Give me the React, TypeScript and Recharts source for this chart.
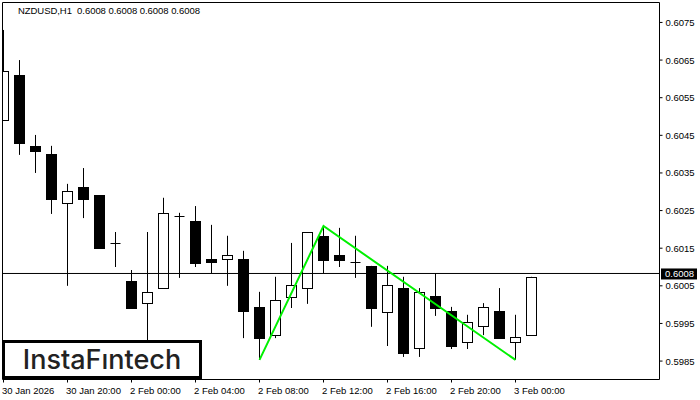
import React from "react";
import {
  ComposedChart,
  Bar,
  Line,
  XAxis,
  YAxis,
  ReferenceLine,
} from "recharts";

const opens = [
  0.60491, 0.6061, 0.60422, 0.604, 0.6027, 0.60313, 0.60291, 0.60164, 0.60063, 0.60004, 0.60044,
  0.60236, 0.60222, 0.60121, 0.60121, 0.60121, 0.59994, 0.59919, 0.6002, 0.60044, 0.60183, 0.60132,
  0.60113, 0.60103, 0.59981, 0.60044, 0.59885, 0.60023, 0.59983, 0.59901, 0.59943, 0.59983, 0.59901,
  0.59919,
];
const highs = [
  0.6073, 0.6065, 0.60451, 0.60422, 0.60321, 0.60363, 0.60291, 0.60193, 0.60092, 0.60193, 0.60284,
  0.60244, 0.60262, 0.60212, 0.60183, 0.60143, 0.60034, 0.60074, 0.60164, 0.60193, 0.60209, 0.60204,
  0.60183, 0.60103, 0.60103, 0.60074, 0.60044, 0.60084, 0.59994, 0.59973, 0.60004, 0.60044, 0.59973,
  0.60074,
];
const lows = [
  0.60491, 0.60398, 0.6035, 0.60241, 0.6005, 0.6023, 0.60151, 0.601, 0.59991, 0.5989, 0.60044,
  0.60071, 0.601, 0.60084, 0.6005, 0.59911, 0.59853, 0.59911, 0.59991, 0.60002, 0.60084, 0.601,
  0.60071, 0.59941, 0.5989, 0.59861, 0.59861, 0.5997, 0.59882, 0.59882, 0.59919, 0.59911, 0.59853,
  0.59919,
];
const closes = [
  0.60621, 0.6043, 0.60408, 0.60281, 0.60302, 0.60281, 0.60151, 0.60164, 0.59991, 0.60034, 0.60244,
  0.60236, 0.60111, 0.60113, 0.60132, 0.59983, 0.59911, 0.60012, 0.60052, 0.60193, 0.60119, 0.60119,
  0.60113, 0.59991, 0.60052, 0.59872, 0.60034, 0.59991, 0.5989, 0.59954, 0.59994, 0.59911, 0.59914,
  0.60074,
];
// double top pattern: bar index -> price
const patternBars = [16, 20, 32];
const patternPrices = [0.59853, 0.60209, 0.59853];

const timeTicks = [0, 4, 8, 12, 16, 20, 24, 28, 32];
const timeLabels = [
  "30 Jan 2026",
  "30 Jan 20:00",
  "2 Feb 00:00",
  "2 Feb 04:00",
  "2 Feb 08:00",
  "2 Feb 12:00",
  "2 Feb 16:00",
  "2 Feb 20:00",
  "3 Feb 00:00",
];
const priceTicks = [0.5985, 0.5995, 0.6005, 0.6015, 0.6025, 0.6035, 0.6045, 0.6055, 0.6065, 0.6075];
const lastPrice = 0.600828;
const lastPriceLabel = "0.6008";
const title = "NZDUSD,H1  0.6008 0.6008 0.6008 0.6008";

const xDomain = [-0.0625, 41];
const yDomain = [0.59801, 0.60803];

const FONT = "'Liberation Sans', sans-serif";

const rows = opens.map((open, i) => {
  const p = patternBars.indexOf(i);
  return {
    i,
    open,
    high: highs[i],
    low: lows[i],
    close: closes[i],
    range: [lows[i], highs[i]],
    pattern: p >= 0 ? patternPrices[p] : null,
  };
});

function Candle(props: any) {
  const { x, y, width, height, payload } = props;
  const top = Math.min(y, y + height);
  const h = Math.abs(height);
  const perUnit = h / (payload.high - payload.low);
  const cx = Math.floor(x + width / 2) + 0.5;
  const left = cx - 5;
  const bodyTop = Math.round(top + (payload.high - Math.max(payload.open, payload.close)) * perUnit) + 0.5;
  const bodyBottom = Math.round(top + (payload.high - Math.min(payload.open, payload.close)) * perUnit) + 0.5;
  const bear = payload.close < payload.open;
  const doji = payload.close === payload.open;
  return (
    <g>
      <line x1={cx} x2={cx} y1={top} y2={top + h} stroke="#000" />
      {doji ? (
        <line x1={left} x2={left + 10} y1={bodyTop} y2={bodyTop} stroke="#000" />
      ) : (
        <rect
          x={left}
          y={bodyTop}
          width={10}
          height={bodyBottom - bodyTop}
          fill={bear ? "#000" : "#fff"}
          stroke="#000"
        />
      )}
    </g>
  );
}

function TimeTick(props: any) {
  const { x, y, payload } = props;
  const label = timeLabels[timeTicks.indexOf(payload.value)];
  return (
    <text x={x - 1.5} y={y + 9} fontSize={9.5} fontFamily={FONT} fill="#000" textAnchor="start">
      {label}
    </text>
  );
}

function PriceTick(props: any) {
  const { x, y, payload } = props;
  return (
    <text x={x} y={y + 3.5} fontSize={9.5} fontFamily={FONT} fill="#000" textAnchor="start">
      {payload.value.toFixed(4)}
    </text>
  );
}

function LastPriceLabel(props: any) {
  const { viewBox } = props;
  const right = viewBox.x + viewBox.width;
  return (
    <g>
      <rect x={right + 1.5} y={viewBox.y - 5} width={36} height={11} fill="#000" />
      <text x={right + 5.5} y={viewBox.y + 4} fontSize={9.5} fontFamily={FONT} fill="#fff">
        {lastPriceLabel}
      </text>
    </g>
  );
}

export default function App() {
  return (
    <div style={{ position: "absolute", left: 0, top: 0, width: 700, height: 400, background: "#fff" }}>
      <ComposedChart
        width={700}
        height={400}
        data={rows}
        margin={{ top: 2.5, right: 0, bottom: 0, left: 2.5 }}
      >
        <XAxis
          dataKey="i"
          type="number"
          domain={xDomain}
          allowDataOverflow
          ticks={timeTicks}
          interval={0}
          height={20.5}
          stroke="#000"
          tickSize={3}
          tick={<TimeTick />}
        />
        <YAxis
          orientation="right"
          type="number"
          domain={yDomain}
          allowDataOverflow
          ticks={priceTicks}
          interval={0}
          width={40.5}
          stroke="#000"
          tickSize={3}
          tickMargin={3}
          tick={<PriceTick />}
        />
        <ReferenceLine y={yDomain[1]} stroke="#000" />
        <ReferenceLine x={xDomain[0]} stroke="#000" />
        <ReferenceLine y={lastPrice} stroke="#000" label={<LastPriceLabel />} />
        <Bar dataKey="range" barSize={11} shape={<Candle />} isAnimationActive={false} />
        <Line
          dataKey="pattern"
          connectNulls
          dot={false}
          activeDot={false}
          stroke="#00f000"
          strokeWidth={2}
          type="linear"
          isAnimationActive={false}
        />
      </ComposedChart>
      <div
        style={{
          position: "absolute",
          left: 18,
          top: 4,
          fontFamily: FONT,
          fontSize: 9.5,
          lineHeight: "13px",
          letterSpacing: "-0.05px",
          color: "#000",
          whiteSpace: "pre",
        }}
      >
        {title}
      </div>
      <div
        style={{
          position: "absolute",
          left: 2,
          top: 340,
          width: 194,
          height: 33,
          border: "3px solid #000",
          background: "#fff",
          fontFamily: "Inter, sans-serif",
          fontWeight: 500,
          fontSize: 27,
          lineHeight: "33px",
          textAlign: "center",
          color: "#222",
        }}
      >
        InstaFıntech
      </div>
    </div>
  );
}
